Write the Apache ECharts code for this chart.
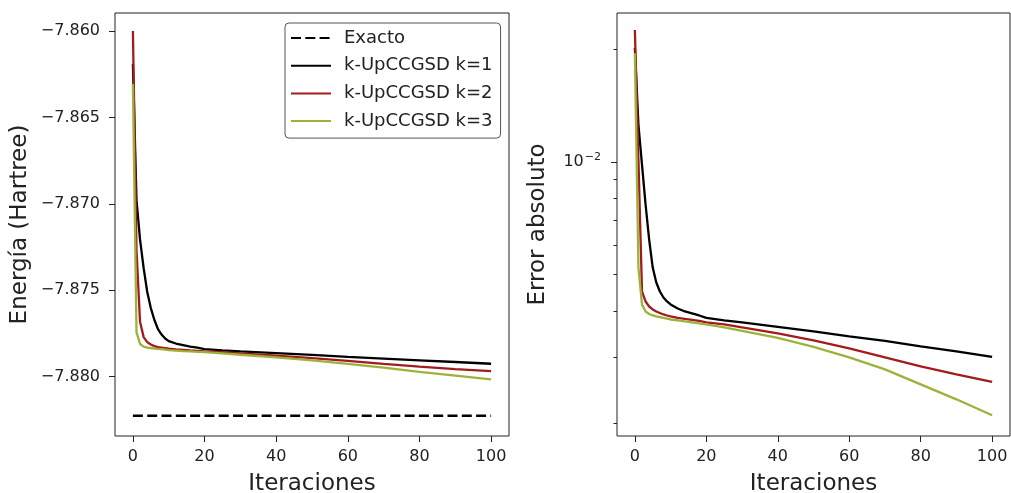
<!DOCTYPE html>
<html>
<head>
<meta charset="utf-8">
<script src="https://cdn.jsdelivr.net/npm/echarts@6/dist/echarts.min.js"></script>
<style>
html,body{margin:0;padding:0;background:#fff;}
#chart{width:1011px;height:493px;}
</style>
</head>
<body>
<div id="chart"></div>
<script>
// ---- data ----
const iterations = [0,1,2,3,4,5,6,7,8,9,10,12,14,16,18,20,25,30,40,50,60,70,80,90,100];

const exactIters = [0, 100];
const exactEnergy = [-7.88226, -7.88226];

const energyK1 = [-7.86191,-7.86978,-7.87209,-7.87372,-7.87510,-7.87603,-7.87672,-7.87725,-7.87756,-7.87779,-7.87794,-7.87808,-7.87817,-7.87826,-7.87832,-7.87840,-7.87848,-7.87854,-7.87864,-7.87874,-7.87885,-7.87895,-7.87905,-7.87915,-7.87925];
const energyK2 = [-7.86000,-7.87267,-7.87684,-7.87771,-7.87800,-7.87814,-7.87823,-7.87829,-7.87832,-7.87835,-7.87838,-7.87842,-7.87845,-7.87848,-7.87850,-7.87854,-7.87858,-7.87865,-7.87878,-7.87893,-7.87909,-7.87926,-7.87942,-7.87956,-7.87968];
const energyK3 = [-7.86307,-7.87742,-7.87811,-7.87826,-7.87832,-7.87834,-7.87837,-7.87839,-7.87840,-7.87843,-7.87846,-7.87849,-7.87852,-7.87854,-7.87856,-7.87858,-7.87865,-7.87873,-7.87888,-7.87906,-7.87926,-7.87947,-7.87972,-7.87994,-7.88016];

const errorK1 = [0.02019,0.012585,0.009835,0.007691,0.006202,0.005221,0.004760,0.004504,0.004341,0.004236,0.004159,0.004057,0.003983,0.003934,0.003886,0.003827,0.003768,0.003723,0.003621,0.003522,0.003415,0.003322,0.003211,0.003113,0.003010];
const errorK2 = [0.02256,0.010132,0.004504,0.004236,0.004107,0.004032,0.003983,0.003947,0.003910,0.003885,0.003862,0.003827,0.003803,0.003780,0.003757,0.003723,0.003677,0.003610,0.003479,0.003332,0.003172,0.003001,0.002840,0.002703,0.002580];
const errorK3 = [0.019554,0.005221,0.004159,0.003983,0.003922,0.003886,0.003862,0.003845,0.003827,0.003809,0.003791,0.003768,0.003745,0.003723,0.003700,0.003677,0.003610,0.003533,0.003384,0.003201,0.003001,0.002787,0.002542,0.002318,0.002101];

const xTicks = [0, 20, 40, 60, 80, 100];
const energyTicks = [-7.880, -7.875, -7.870, -7.865, -7.860];
const errorMajorTicks = [0.01];
const errorMinorTicks = [0.002,0.003,0.004,0.005,0.006,0.007,0.008,0.009,0.02];

const seriesNames = ['Exacto', 'k-UpCCGSD k=1', 'k-UpCCGSD k=2', 'k-UpCCGSD k=3'];
const seriesColors = ['#000000', '#000000', '#a21c1c', '#9db23a'];

// ---- chart ----
const FONT = 'DejaVu Sans';
const TXT = '#222';
const pairs = (xs, ys) => xs.map((x, i) => [x, ys[i]]);
const fmtNeg = v => (v < 0 ? '\u2212' : '') + Math.abs(v).toFixed(3);

const chart = echarts.init(document.getElementById('chart'), null, {renderer: 'canvas'});

const xAxisBase = (gridIndex) => ({
  type: 'value', gridIndex, min: -5, max: 105,
  axisLine: {show: false, onZero: false},
  axisTick: {show: true, length: 6, customValues: xTicks, lineStyle: {color: TXT, width: 1}},
  axisLabel: {customValues: xTicks, fontSize: 16, fontFamily: FONT, color: TXT, margin: 13},
  splitLine: {show: false},
  name: 'Iteraciones', nameLocation: 'middle', nameGap: 37,
  nameTextStyle: {fontSize: 23, fontFamily: FONT, color: TXT}
});

const lineSeries = (name, color, xi, yi, data, extra) => Object.assign({
  type: 'line', name, xAxisIndex: xi, yAxisIndex: yi, data,
  showSymbol: false, symbol: 'none', smooth: false,
  lineStyle: {color, width: 2.3}, itemStyle: {color},
  emphasis: {disabled: true}, animation: false
}, extra || {});

chart.setOption({
  animation: false,
  backgroundColor: '#fff',
  grid: [
    {left: 115, top: 13, width: 394, height: 423, show: true, borderColor: '#222', borderWidth: 1, outerBoundsMode: 'none', containLabel: false},
    {left: 617, top: 13, width: 393, height: 423, show: true, borderColor: '#222', borderWidth: 1, outerBoundsMode: 'none', containLabel: false}
  ],
  xAxis: [xAxisBase(0), xAxisBase(1)],
  yAxis: [
    {
      type: 'value', gridIndex: 0, position: 'left', min: -7.88343, max: -7.85896,
      axisLine: {show: false, onZero: false},
      axisTick: {show: true, length: 6, customValues: energyTicks, lineStyle: {color: TXT}},
      axisLabel: {customValues: energyTicks, formatter: fmtNeg, fontSize: 16, fontFamily: FONT, color: TXT, margin: 15},
      splitLine: {show: false},
      name: 'Energía (Hartree)', nameLocation: 'middle', nameGap: 83,
      nameTextStyle: {fontSize: 23, fontFamily: FONT, color: TXT}
    },
    {
      type: 'log', logBase: 10, gridIndex: 1, position: 'left', min: 0.001849, max: 0.02506,
      axisLine: {show: false, onZero: false},
      axisTick: {show: true, length: 6, customValues: errorMajorTicks, lineStyle: {color: TXT}},
      axisLabel: {
        customValues: errorMajorTicks, margin: 16, fontFamily: FONT, color: TXT,
        formatter: v => '{b|10}{s|\u22122}',
        rich: {
          b: {fontSize: 16, fontFamily: FONT, color: TXT},
          s: {fontSize: 11, fontFamily: FONT, color: TXT, padding: [0, 0, 10, 1]}
        }
      },
      splitLine: {show: false},
      name: 'Error absoluto', nameLocation: 'middle', nameGap: 67,
      nameTextStyle: {fontSize: 23, fontFamily: FONT, color: TXT}
    },
    {
      type: 'log', logBase: 10, gridIndex: 1, position: 'left', min: 0.001849, max: 0.02506,
      axisLine: {show: false, onZero: false},
      axisTick: {show: true, length: 3.5, customValues: errorMinorTicks, lineStyle: {color: TXT}},
      axisLabel: {show: false},
      splitLine: {show: false}
    }
  ],
  legend: {
    orient: 'vertical', left: 285, top: 23,
    data: seriesNames,
    backgroundColor: '#fff', borderColor: '#555', borderWidth: 1, borderRadius: 4,
    padding: [6, 8, 8, 5],
    itemWidth: 40, itemHeight: 14, itemGap: 9.7,
    itemStyle: {opacity: 0},
    textStyle: {fontSize: 18, fontFamily: FONT, color: TXT, padding: [0, 0, 0, 8]},
    selectedMode: false
  },
  series: [
    lineSeries(seriesNames[0], seriesColors[0], 0, 0, pairs(exactIters, exactEnergy), {lineStyle: {color: seriesColors[0], width: 2.4, type: [10, 4.3]}}),
    lineSeries(seriesNames[1], seriesColors[1], 0, 0, pairs(iterations, energyK1)),
    lineSeries(seriesNames[2], seriesColors[2], 0, 0, pairs(iterations, energyK2)),
    lineSeries(seriesNames[3], seriesColors[3], 0, 0, pairs(iterations, energyK3)),
    lineSeries(seriesNames[1], seriesColors[1], 1, 1, pairs(iterations, errorK1)),
    lineSeries(seriesNames[2], seriesColors[2], 1, 1, pairs(iterations, errorK2)),
    lineSeries(seriesNames[3], seriesColors[3], 1, 1, pairs(iterations, errorK3))
  ]
});
</script>
</body>
</html>
